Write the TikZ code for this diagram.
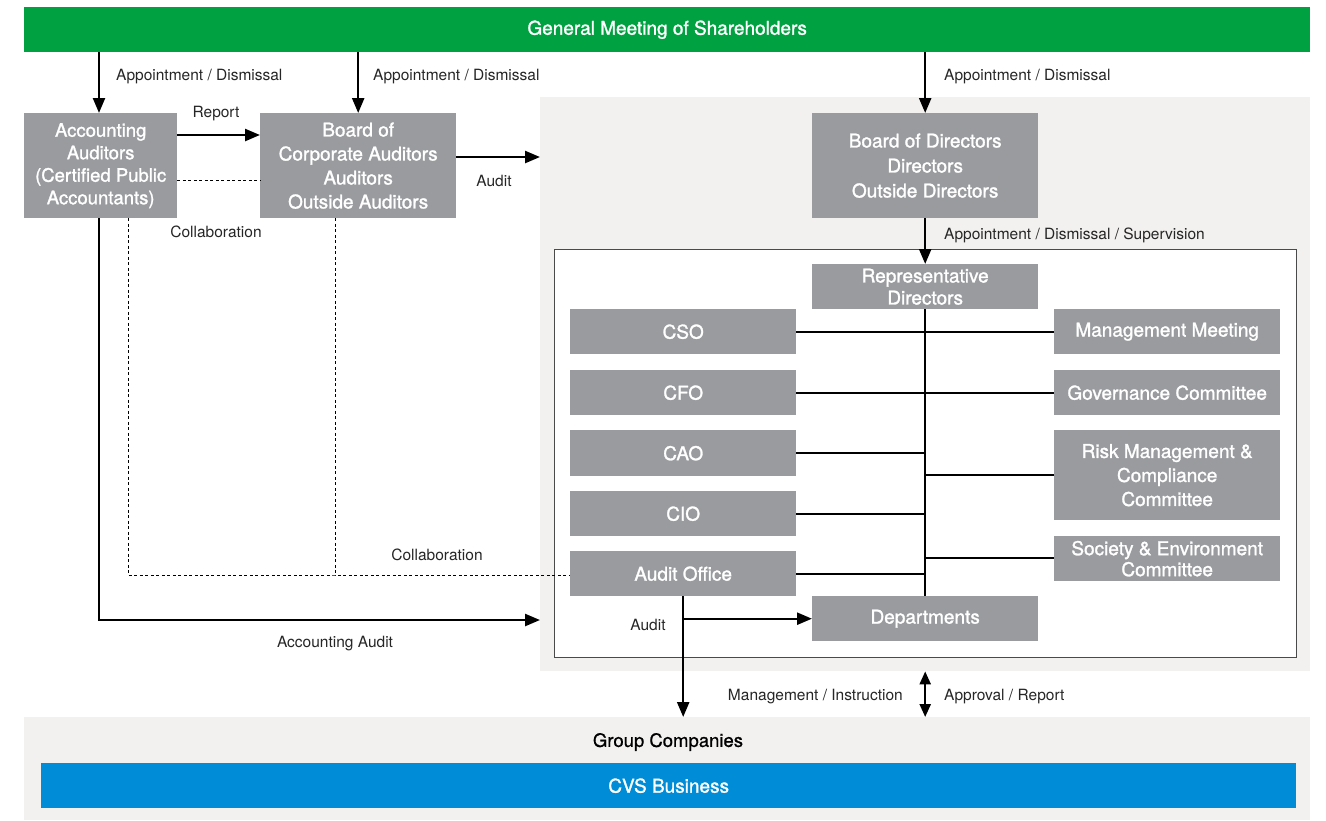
\documentclass[tikz,border=0pt]{standalone}
\usepackage{fontspec}
\setmainfont{TeX Gyre Heros}
\newfontfamily\medfont[FakeBold=1.4]{TeX Gyre Heros}
\newfontfamily\hdfont[FakeBold=0.8]{TeX Gyre Heros}
\usetikzlibrary{arrows.meta}

\definecolor{gmgreen}{HTML}{00A140}
\definecolor{boxgray}{HTML}{999B9E}
\definecolor{panelgray}{HTML}{F2F1EF}
\definecolor{cvsblue}{HTML}{008CD6}
\definecolor{framegray}{HTML}{4A4A4A}

\newcommand\boxtext{\medfont\fontsize{19}{24}\selectfont}
\newcommand\lbltext{\fontsize{15.5}{18}\selectfont}

\tikzset{
  box/.style={fill=boxgray, text=white, inner sep=0pt, anchor=north west,
              align=center, font=\boxtext},
  lbl/.style={font=\lbltext, inner sep=0pt, text=black!85},
  arr/.style={line width=2.4pt, -{Triangle[length=15pt,width=12pt]}},
  darr/.style={line width=2.4pt, {Triangle[length=13pt,width=11pt]}-{Triangle[length=13pt,width=11pt]}},
  link/.style={line width=2.2pt},
  collab/.style={line width=1pt, dash pattern=on 3pt off 2.5pt},
}

\begin{document}
\begin{tikzpicture}[x=1pt,y=-1pt]
\useasboundingbox (0,0) rectangle (1326,820);
\fill[white] (0,0) rectangle (1326,820);

% background panels
\node[fill=panelgray, inner sep=0pt, anchor=north west, minimum width=770pt, minimum height=574pt] (pnl) at (540,97) {};
\node[fill=white, draw=framegray, line width=1.2pt, inner sep=0pt, anchor=north west, minimum width=742pt, minimum height=408pt] (exec) at (554,249) {};
\node[fill=panelgray, inner sep=0pt, anchor=north west, minimum width=1286pt, minimum height=103pt] (grp) at (24,717) {};

% top and bottom bars
\node[fill=gmgreen, text=white, inner sep=0pt, anchor=north west, minimum width=1286pt, minimum height=45pt, font=\medfont\fontsize{19}{22}\selectfont] (gm) at (24,7) {General Meeting of Shareholders};
\node[font=\hdfont\fontsize{18.5}{22}\selectfont, inner sep=0pt] (grplbl) at (668,742) {Group Companies};
\node[fill=cvsblue, text=white, inner sep=0pt, anchor=north west, minimum width=1255pt, minimum height=45pt, font=\medfont\fontsize{19}{22}\selectfont] (cvs) at (41,763) {CVS Business};

% auditing bodies
\node[box, minimum width=153pt, minimum height=105pt, font=\medfont\fontsize{18.5}{22.5}\selectfont] (acc) at (24,113) {Accounting\\Auditors\\(Certified Public\\Accountants)};
\node[box, minimum width=196pt, minimum height=105pt] (bca) at (260,113) {Board of\\Corporate Auditors\\Auditors\\Outside Auditors};
\node[box, minimum width=226pt, minimum height=105pt, font=\medfont\fontsize{19}{25}\selectfont] (bod) at (812,113) {Board of Directors\\Directors\\Outside Directors};

% executive structure
\node[box, minimum width=226pt, minimum height=45pt, font=\medfont\fontsize{19}{22}\selectfont] (rep) at (812,264) {Representative\\Directors};
\node[box, minimum width=226pt, minimum height=45pt] (cso) at (570,309) {CSO};
\node[box, minimum width=226pt, minimum height=45pt] (cfo) at (570,370) {CFO};
\node[box, minimum width=226pt, minimum height=46pt] (cao) at (570,430) {CAO};
\node[box, minimum width=226pt, minimum height=45pt] (cio) at (570,491) {CIO};
\node[box, minimum width=226pt, minimum height=45pt] (aud) at (570,551) {Audit Office};
\node[box, minimum width=226pt, minimum height=45pt] (dep) at (812,596) {Departments};

\node[box, minimum width=226pt, minimum height=45pt] (mm) at (1054,309) {Management Meeting};
\node[box, minimum width=226pt, minimum height=45pt] (gov) at (1054,370) {Governance Committee};
\node[box, minimum width=226pt, minimum height=90pt] (risk) at (1054,430) {Risk Management \&\\Compliance\\Committee};
\node[box, minimum width=226pt, minimum height=45pt, font=\medfont\fontsize{19}{21}\selectfont] (soc) at (1054,536) {Society \& Environment\\Committee};

% appointment arrows from the general meeting
\draw[arr] (gm.south -| 99,0) -- (acc.north -| 99,0);
\draw[arr] (gm.south -| bca.north) -- (bca.north);
\draw[arr] (gm.south -| bod.north) -- (bod.north);
\node[lbl, anchor=west] (l1) at (116,77) {Appointment / Dismissal};
\node[lbl, anchor=west] (l2) at (373,77) {Appointment / Dismissal};
\node[lbl, anchor=west] (l3) at (944,77) {Appointment / Dismissal};

% report, audit, collaboration between auditors
\draw[arr] (acc.east |- 0,135) -- (bca.west |- 0,135);
\node[lbl] (lrep) at (216,114) {Report};
\draw[collab] (acc.east |- 0,180) -- (bca.west |- 0,180);
\node[lbl] (lcol1) at (216,232) {Collaboration};
\draw[arr] (bca.east |- 0,157) -- (pnl.west |- 0,157);
\node[lbl] (laud1) at (494,181) {Audit};

% board of directors to representative directors
\draw[arr] (bod.south) -- (rep.north);
\node[lbl, anchor=west] (l4) at (944,235) {Appointment / Dismissal / Supervision};

% spine of the executive structure
\draw[link] (rep.south) -- (dep.north);
\draw[link] (cso.east) -- (mm.west);
\draw[link] (cfo.east) -- (gov.west);
\draw[link] (cao.east) -- (cao.east -| rep.south);
\draw[link] (cio.east) -- (cio.east -| rep.south);
\draw[link] (aud.east |- 0,574) -- (rep.south |- 0,574);
\draw[link] (risk.west) -- (risk.west -| rep.south);
\draw[link] (soc.west |- 0,558) -- (rep.south |- 0,558);

% collaboration with the audit office
\coordinate (c1) at (128,575);
\coordinate (c2) at (335,575);
\draw[collab] (acc.south -| c1) -- (c1) -- (c2) -- (aud.west |- c2);
\draw[collab] (bca.south -| c2) -- (c2);
\node[lbl] (lcol2) at (437,555) {Collaboration};

% accounting audit
\coordinate (a1) at (99,620);
\draw[arr] (acc.south -| a1) -- (a1) -- (pnl.west |- a1);
\node[lbl] (lacc) at (335,644) {Accounting Audit};

% internal audit
\draw[arr] (aud.south) -- (aud.south |- grp.north);
\draw[arr] (aud.south |- dep.west) -- (dep.west);
\node[lbl] (laud2) at (648,625) {Audit};

% management of group companies
\draw[darr] (dep.south |- pnl.south) -- (dep.south |- grp.north);
\node[lbl, anchor=east] (lmi) at (903,697) {Management / Instruction};
\node[lbl, anchor=west] (lar) at (944,697) {Approval / Report};
\end{tikzpicture}
\end{document}
